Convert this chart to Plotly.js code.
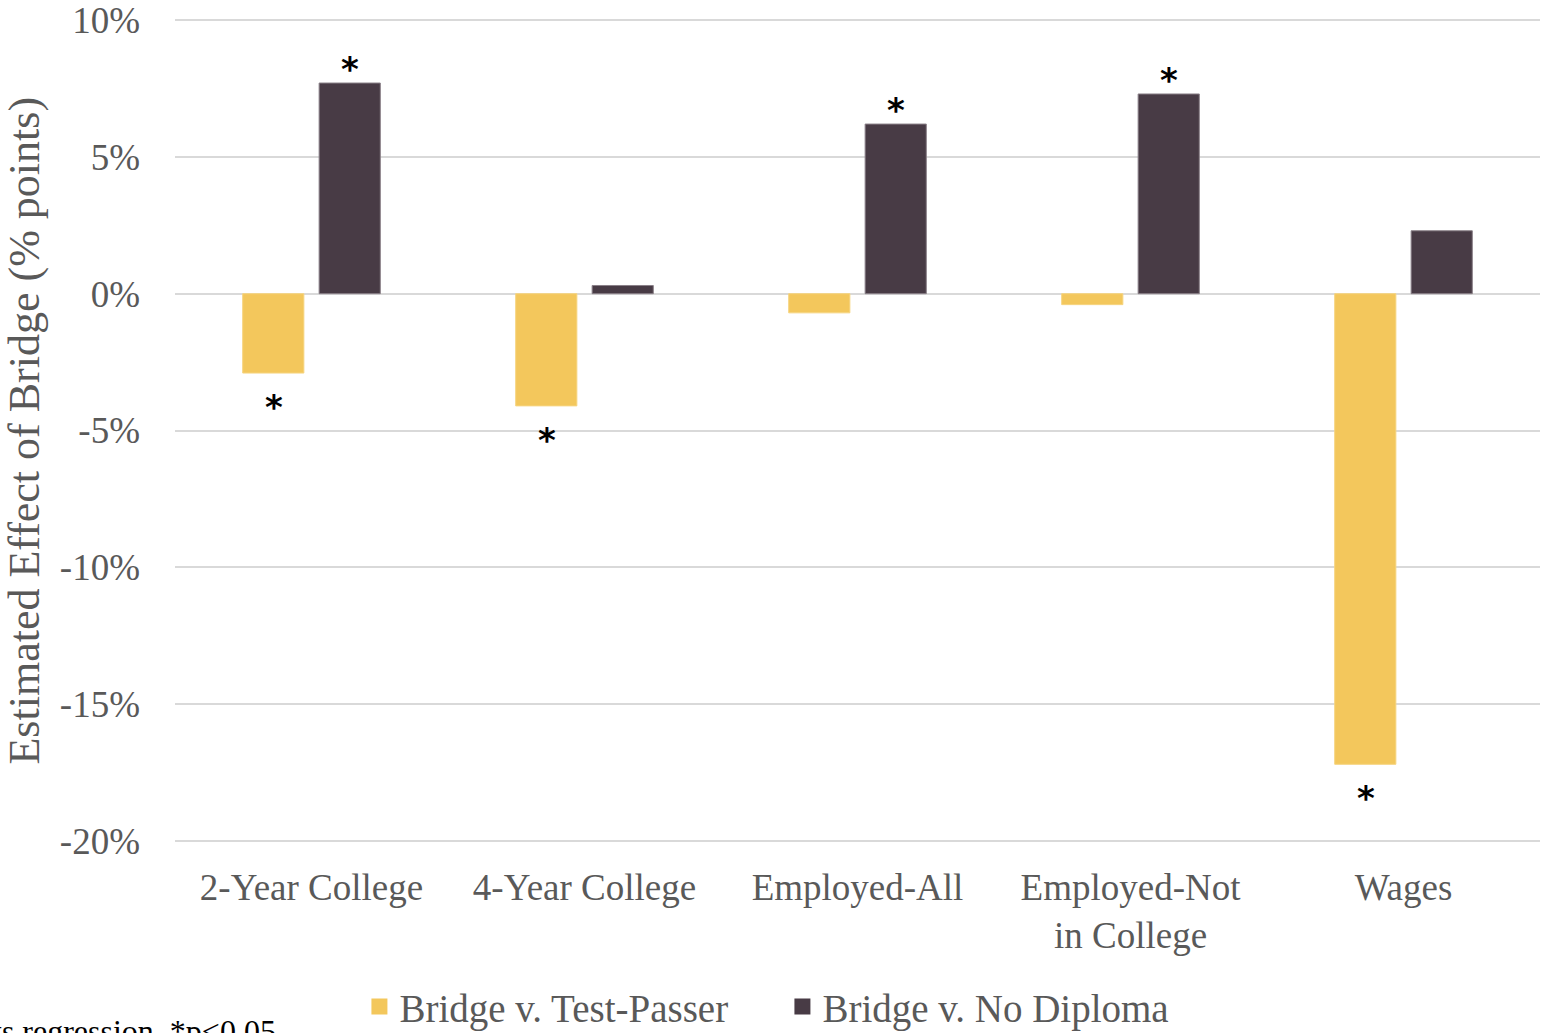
<!DOCTYPE html>
<html>
<head>
<meta charset="utf-8">
<script src="https://cdn.plot.ly/plotly-3.0.1.min.js"></script>
<style>
  html, body { margin: 0; padding: 0; background: #ffffff; }
  #chart { width: 1544px; height: 1033px; }
</style>
</head>
<body>
<div id="chart"></div>
<script>
// Outcomes and estimated effects (percentage points)
const categories = ['2-Year College', '4-Year College', 'Employed-All', 'Employed-Not<br>in College', 'Wages'];
const seriesNames = ['Bridge v. Test-Passer', 'Bridge v. No Diploma'];
const testPasser = [-2.9, -4.1, -0.7, -0.4, -17.2];
const noDiploma = [7.7, 0.3, 6.2, 7.3, 2.3];
// Significance at p<0.05
const sigTestPasser = [true, true, false, false, true];
const sigNoDiploma = [true, false, true, true, false];
const yTicks = [-20, -15, -10, -5, 0, 5, 10];

const serif = '"Liberation Serif", "DejaVu Serif", serif';
const gray = '#595959';
const colors = ['#F3C75C', '#483B45'];
const edges = ['#F6D47F', '#8A8088'];

const traces = [
  {
    type: 'bar', name: seriesNames[0], showlegend: false,
    x: categories, y: testPasser,
    marker: { color: colors[0], line: { color: edges[0], width: 1 } },
    hoverinfo: 'none'
  },
  {
    type: 'bar', name: seriesNames[1], showlegend: false,
    x: categories, y: noDiploma,
    marker: { color: colors[1], line: { color: edges[1], width: 1 } },
    hoverinfo: 'none'
  },
  // Legend keys drawn as larger square swatches (no visible points)
  ...seriesNames.map((n, i) => ({
    type: 'scatter', mode: 'markers', name: n,
    x: [categories[0]], y: [null],
    marker: { symbol: 'square', size: 16, color: colors[i] },
    hoverinfo: 'none'
  }))
];

// Significance stars placed just beyond the end of each significant bar
function stars(values, sig, shift) {
  const out = [];
  values.forEach((v, i) => {
    if (!sig[i]) return;
    out.push({
      x: categories[i], y: v, xref: 'x', yref: 'y',
      xshift: shift, yshift: v >= 0 ? 14 : -34,
      yanchor: 'middle', xanchor: 'center',
      text: '*', showarrow: false,
      font: { family: '"DejaVu Sans", sans-serif', size: 34, color: '#000000', weight: 'bold' }
    });
  });
  return out;
}

const annotations = [
  ...stars(testPasser, sigTestPasser, -38),
  ...stars(noDiploma, sigNoDiploma, 38),
  {
    xref: 'paper', yref: 'paper', x: -0.1106, y: 0.5,
    xanchor: 'center', yanchor: 'middle', textangle: -90,
    text: 'Estimated Effect of Bridge (% points)', showarrow: false,
    font: { family: serif, size: 44, color: gray }
  },
  {
    xref: 'paper', yref: 'paper', x: 0.0755, y: -0.2053,
    xanchor: 'right', yanchor: 'top',
    text: 'ts regression. *p<0.05', showarrow: false,
    font: { family: serif, size: 32, color: '#000000' }
  }
];

const layout = {
  width: 1544, height: 1033,
  margin: { l: 175, r: 4, t: 19, b: 191, autoexpand: false },
  paper_bgcolor: '#ffffff', plot_bgcolor: '#ffffff',
  barmode: 'group', bargap: 0.44, bargroupgap: 0.2,
  showlegend: true,
  legend: {
    orientation: 'h', x: 0.445, xanchor: 'center', y: -0.2, yanchor: 'middle',
    font: { family: serif, size: 39, color: gray },
    itemwidth: 30, traceorder: 'normal', itemsizing: 'trace',
    entrywidth: 378, entrywidthmode: 'pixels'
  },
  xaxis: {
    type: 'category', showgrid: false, zeroline: false, showline: false,
    ticks: '', ticklabelstandoff: 20, automargin: false,
    tickfont: { family: serif, size: 37, color: gray }
  },
  yaxis: {
    range: [-20.04, 10.04], tickvals: yTicks,
    ticktext: yTicks.map(v => v + '%'),
    showgrid: true, gridcolor: '#D9D9D9', gridwidth: 2,
    zeroline: true, zerolinecolor: '#D9D9D9', zerolinewidth: 2,
    showline: false, ticks: '', ticklabelstandoff: 34, automargin: false,
    ticklabeloverflow: 'allow',
    tickfont: { family: serif, size: 37, color: gray }
  },
  annotations: annotations
};

Plotly.newPlot('chart', traces, layout, { displayModeBar: false, staticPlot: true });
</script>
</body>
</html>
